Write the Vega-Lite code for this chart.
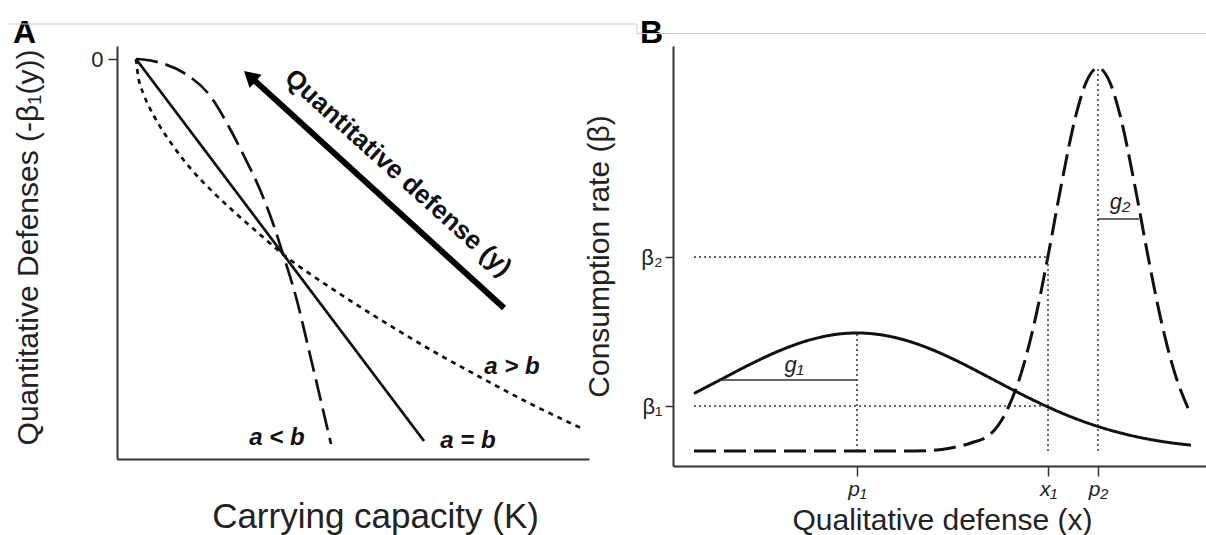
{
  "$schema": "https://vega.github.io/schema/vega-lite/v6.json",
  "background": "white",
  "padding": {"left": 8, "top": 16, "right": 0, "bottom": 0},
  "bounds": "flush",
  "spacing": 84,
  "config": {
    "view": {"stroke": null},
    "font": "Liberation Sans, DejaVu Sans, sans-serif",
    "axis": {
      "grid": false,
      "domainColor": "#333333",
      "domainWidth": 2,
      "tickColor": "#333333",
      "tickWidth": 1.5,
      "labelColor": "#222222",
      "titleColor": "#222222",
      "labelFont": "Liberation Sans, DejaVu Sans, sans-serif",
      "titleFont": "Liberation Sans, DejaVu Sans, sans-serif",
      "titleFontWeight": "normal"
    }
  },
  "datasets": {
    "curvesA": [
      {"K": 0.475, "D": 0, "curve": "a = b"},
      {"K": 7.675, "D": -9.55, "curve": "a = b"},
      {"K": 0.475, "D": 0, "curve": "a < b"},
      {"K": 0.65, "D": -0.0125, "curve": "a < b"},
      {"K": 1.1, "D": -0.1, "curve": "a < b"},
      {"K": 1.675, "D": -0.35, "curve": "a < b"},
      {"K": 2.35, "D": -0.95, "curve": "a < b"},
      {"K": 2.8, "D": -1.7, "curve": "a < b"},
      {"K": 3.175, "D": -2.425, "curve": "a < b"},
      {"K": 3.6, "D": -3.325, "curve": "a < b"},
      {"K": 3.925, "D": -4.18, "curve": "a < b"},
      {"K": 4.15, "D": -4.88, "curve": "a < b"},
      {"K": 4.475, "D": -5.95, "curve": "a < b"},
      {"K": 4.85, "D": -7.5, "curve": "a < b"},
      {"K": 5.35, "D": -9.625, "curve": "a < b"},
      {"K": 0.475, "D": 0, "curve": "a > b"},
      {"K": 0.525, "D": -0.4, "curve": "a > b"},
      {"K": 0.675, "D": -0.9, "curve": "a > b"},
      {"K": 0.925, "D": -1.425, "curve": "a > b"},
      {"K": 1.35, "D": -2.1, "curve": "a > b"},
      {"K": 1.85, "D": -2.75, "curve": "a > b"},
      {"K": 2.425, "D": -3.35, "curve": "a > b"},
      {"K": 3.1, "D": -3.975, "curve": "a > b"},
      {"K": 3.675, "D": -4.475, "curve": "a > b"},
      {"K": 4.15, "D": -4.88, "curve": "a > b"},
      {"K": 5.35, "D": -5.725, "curve": "a > b"},
      {"K": 6.6, "D": -6.525, "curve": "a > b"},
      {"K": 7.85, "D": -7.275, "curve": "a > b"},
      {"K": 9.025, "D": -7.925, "curve": "a > b"},
      {"K": 10.35, "D": -8.625, "curve": "a > b"},
      {"K": 11.6, "D": -9.225, "curve": "a > b"}
    ],
    "arrowA": [{"K": 9.675, "D": -6.225, "K2": 3.32, "D2": -0.43}],
    "arrowHeadA": [{"K": 3.32, "D": -0.43}],
    "arrowTextA": [{"K": 7.025, "D": -2.85, "text": "Quantitative defense (y)"}],
    "labelsA": [
      {"K": 4.0, "D": -9.475, "text": "a < b"},
      {"K": 8.775, "D": -9.55, "text": "a = b"},
      {"K": 9.875, "D": -7.7, "text": "a > b"}
    ],
    "panelA": [{"K": -2.6, "D": 0.4, "text": "A"}],
    "borderA": [
      {"K": -2.7, "D": 0.875, "K2": 13, "D2": 0.875},
      {"K": 13, "D": 0.875, "K2": 13, "D2": 0.6375}
    ],
    "curvesB": [
      {"x": 0.525, "beta": 1.8125, "curve": "solid"},
      {"x": 1.175, "beta": 2.15, "curve": "solid"},
      {"x": 1.95, "beta": 2.5525, "curve": "solid"},
      {"x": 2.7, "beta": 2.8975, "curve": "solid"},
      {"x": 3.45, "beta": 3.16, "curve": "solid"},
      {"x": 4.2, "beta": 3.305, "curve": "solid"},
      {"x": 4.6, "beta": 3.325, "curve": "solid"},
      {"x": 4.95, "beta": 3.31, "curve": "solid"},
      {"x": 5.7, "beta": 3.175, "curve": "solid"},
      {"x": 6.45, "beta": 2.92, "curve": "solid"},
      {"x": 7.2, "beta": 2.5775, "curve": "solid"},
      {"x": 7.95, "beta": 2.19, "curve": "solid"},
      {"x": 8.7, "beta": 1.8, "curve": "solid"},
      {"x": 9.375, "beta": 1.475, "curve": "solid"},
      {"x": 9.95, "beta": 1.23, "curve": "solid"},
      {"x": 10.7, "beta": 0.965, "curve": "solid"},
      {"x": 11.45, "beta": 0.7625, "curve": "solid"},
      {"x": 12.2, "beta": 0.6175, "curve": "solid"},
      {"x": 12.95, "beta": 0.52, "curve": "solid"},
      {"x": 0.525, "beta": 0.375, "curve": "dashed"},
      {"x": 3.2, "beta": 0.375, "curve": "dashed"},
      {"x": 5.7, "beta": 0.375, "curve": "dashed"},
      {"x": 6.45, "beta": 0.3875, "curve": "dashed"},
      {"x": 6.95, "beta": 0.45, "curve": "dashed"},
      {"x": 7.45, "beta": 0.575, "curve": "dashed"},
      {"x": 7.95, "beta": 0.8075, "curve": "dashed"},
      {"x": 8.325, "beta": 1.345, "curve": "dashed"},
      {"x": 8.7, "beta": 2.3025, "curve": "dashed"},
      {"x": 9.075, "beta": 3.76, "curve": "dashed"},
      {"x": 9.375, "beta": 5.245, "curve": "dashed"},
      {"x": 9.7, "beta": 6.9875, "curve": "dashed"},
      {"x": 10.075, "beta": 8.775, "curve": "dashed"},
      {"x": 10.325, "beta": 9.585, "curve": "dashed"},
      {"x": 10.625, "beta": 9.95, "curve": "dashed"},
      {"x": 10.925, "beta": 9.585, "curve": "dashed"},
      {"x": 11.175, "beta": 8.775, "curve": "dashed"},
      {"x": 11.55, "beta": 6.9875, "curve": "dashed"},
      {"x": 11.875, "beta": 5.245, "curve": "dashed"},
      {"x": 12.175, "beta": 3.76, "curve": "dashed"},
      {"x": 12.55, "beta": 2.3025, "curve": "dashed"},
      {"x": 12.875, "beta": 1.4475, "curve": "dashed"}
    ],
    "refB": [
      {"x": 0.525, "x2": 9.375, "beta": 5.225, "beta2": 5.225},
      {"x": 0.525, "x2": 9.375, "beta": 1.5, "beta2": 1.5},
      {"x": 9.375, "x2": 9.375, "beta": 0.375, "beta2": 5.225},
      {"x": 4.6, "x2": 4.6, "beta": 0.375, "beta2": 3.325},
      {"x": 10.625, "x2": 10.625, "beta": 0.375, "beta2": 9.95}
    ],
    "gB": [
      {"x": 1.175, "x2": 4.6, "beta": 2.15, "beta2": 2.15},
      {"x": 10.625, "x2": 11.65, "beta": 6.175, "beta2": 6.175}
    ],
    "gLabels": [
      {"x": 3.025, "beta": 2.525, "text": "g₁"},
      {"x": 11.175, "beta": 6.6, "text": "g₂"}
    ],
    "panelB": [{"x": -0.825, "beta": 10.575, "text": "B"}],
    "borderB": [{"x": -0.9, "beta": 10.8125, "x2": 13.35, "beta2": 10.8125}]
  },
  "hconcat": [
    {
      "width": 472,
      "height": 413,
      "encoding": {
        "x": {"field": "K", "type": "quantitative",
          "scale": {"domain": [0, 11.8], "nice": false, "zero": false},
          "axis": {"title": "Carrying capacity (K)", "ticks": false, "labels": false,
            "titleFontSize": 35, "titleX": 258, "titleY": 57, "titleBaseline": "middle", "titleAlign": "center"}},
        "y": {"field": "D", "type": "quantitative",
          "scale": {"domain": [-10, 0.325], "nice": false, "zero": false},
          "axis": {"values": [0], "format": "d", "labelFontSize": 22, "labelPadding": 5, "tickSize": 9,
            "title": "Quantitative Defenses (-β₁(y))", "titleFontSize": 30, "titleX": -89, "titleY": 201,
            "titleBaseline": "middle", "titleAlign": "center", "titleAngle": -90}}
      },
      "layer": [
        {"data": {"name": "curvesA"},
         "mark": {"type": "line", "interpolate": "monotone", "strokeWidth": 2.7, "color": "#111111"},
         "encoding": {"strokeDash": {"field": "curve", "type": "nominal",
           "scale": {"domain": ["a = b", "a < b", "a > b"], "range": [[1, 0], [22, 8], [5, 5]]}, "legend": null}}},
        {"data": {"name": "arrowA"},
         "mark": {"type": "rule", "strokeWidth": 6, "color": "#000000", "strokeCap": "butt"},
         "encoding": {"x2": {"field": "K2"}, "y2": {"field": "D2"}}},
        {"data": {"name": "arrowHeadA"},
         "mark": {"type": "point", "shape": "triangle-up", "filled": true, "size": 324, "angle": 312, "color": "#000000", "opacity": 1}},
        {"data": {"name": "arrowTextA"},
         "mark": {"type": "text", "angle": 42, "fontSize": 26, "fontWeight": "bold", "align": "center", "baseline": "middle", "color": "#111111"},
         "encoding": {"text": {"field": "text"}}},
        {"data": {"name": "labelsA"},
         "mark": {"type": "text", "fontSize": 24, "fontWeight": "bold", "fontStyle": "italic", "align": "center", "baseline": "middle", "color": "#111111"},
         "encoding": {"text": {"field": "text"}}},
        {"data": {"name": "panelA"},
         "mark": {"type": "text", "fontSize": 32, "fontWeight": "bold", "align": "left", "baseline": "alphabetic", "color": "#000000"},
         "encoding": {"text": {"field": "text"}}},
        {"data": {"name": "borderA"},
         "mark": {"type": "rule", "strokeWidth": 1, "color": "#cccccc"},
         "encoding": {"x2": {"field": "K2"}, "y2": {"field": "D2"}}}
      ]
    },
    {
      "width": 534,
      "height": 420,
      "encoding": {
        "x": {"field": "x", "type": "quantitative",
          "scale": {"domain": [0, 13.35], "nice": false, "zero": false},
          "axis": {"values": [4.6, 9.375, 10.625],
            "labelExpr": "datum.value < 5 ? 'p₁' : datum.value < 10 ? 'x₁' : 'p₂'",
            "labelFontSize": 21, "labelFontStyle": "italic", "labelPadding": 2, "tickSize": 10,
            "title": "Qualitative defense (x)", "titleFontSize": 30, "titleX": 269, "titleY": 54,
            "titleBaseline": "middle", "titleAlign": "center"}},
        "y": {"field": "beta", "type": "quantitative",
          "scale": {"domain": [0, 10.5], "nice": false, "zero": false},
          "axis": {"values": [1.5, 5.225],
            "labelExpr": "datum.value < 3 ? 'β₁' : 'β₂'",
            "labelFontSize": 22, "labelPadding": 3, "tickSize": 8,
            "title": "Consumption rate (β)", "titleFontSize": 30, "titleX": -74, "titleY": 210,
            "titleBaseline": "middle", "titleAlign": "center", "titleAngle": -90}}
      },
      "layer": [
        {"data": {"name": "curvesB"},
         "mark": {"type": "line", "interpolate": "monotone", "strokeWidth": 3, "color": "#111111"},
         "encoding": {"strokeDash": {"field": "curve", "type": "nominal",
           "scale": {"domain": ["solid", "dashed"], "range": [[1, 0], [20, 8]]}, "legend": null}}},
        {"data": {"name": "refB"},
         "mark": {"type": "rule", "strokeWidth": 1.5, "strokeDash": [2, 3], "color": "#333333"},
         "encoding": {"x2": {"field": "x2"}, "y2": {"field": "beta2"}}},
        {"data": {"name": "gB"},
         "mark": {"type": "rule", "strokeWidth": 1.5, "color": "#333333"},
         "encoding": {"x2": {"field": "x2"}, "y2": {"field": "beta2"}}},
        {"data": {"name": "gLabels"},
         "mark": {"type": "text", "fontSize": 22, "fontStyle": "italic", "align": "center", "baseline": "middle", "color": "#222222"},
         "encoding": {"text": {"field": "text"}}},
        {"data": {"name": "panelB"},
         "mark": {"type": "text", "fontSize": 32, "fontWeight": "bold", "align": "left", "baseline": "alphabetic", "color": "#000000"},
         "encoding": {"text": {"field": "text"}}},
        {"data": {"name": "borderB"},
         "mark": {"type": "rule", "strokeWidth": 1, "color": "#cccccc"},
         "encoding": {"x2": {"field": "x2"}, "y2": {"field": "beta2"}}}
      ]
    }
  ]
}
